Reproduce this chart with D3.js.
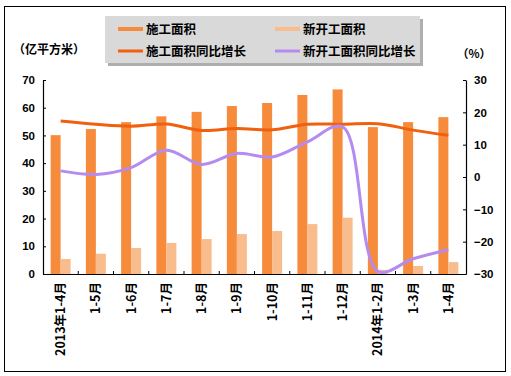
<!DOCTYPE html>
<html>
<head>
<meta charset="utf-8">
<script src="https://cdn.jsdelivr.net/npm/d3@7/dist/d3.min.js"></script>
<style>
  body { margin: 0; background: #fff; }
  svg { display: block; }
</style>
</head>
<body>
<svg id="chart" width="511" height="376"></svg>
<script>
let categories = ["2013年1-4月", "1-5月", "1-6月", "1-7月", "1-8月", "1-9月", "1-10月", "1-11月", "1-12月", "2014年1-2月", "1-3月", "1-4月"];
let construction = [50.1, 52.3, 54.8, 56.9, 58.5, 60.6, 61.7, 64.6, 66.6, 53.0, 54.8, 56.6];
let newStarts = [5.4, 7.3, 9.4, 11.2, 12.6, 14.4, 15.5, 18.0, 20.3, 1.5, 2.9, 4.3];
let constructionGrowth = [17.3, 16.3, 15.7, 16.4, 14.4, 15.0, 14.6, 16.3, 16.3, 16.5, 14.5, 12.9];
let newStartsGrowth = [1.9, 0.8, 2.9, 8.3, 3.9, 7.3, 6.2, 10.9, 15.5, -29.2, -25.3, -22.5];
let leftTicks = [0, 10, 20, 30, 40, 50, 60, 70];
let rightTicks = [-30, -20, -10, 0, 10, 20, 30];

let svg = d3.select("#chart");
let margin = { left: 43, right: 466, top: 80, bottom: 274 };
let tickFont = "'Liberation Sans', Arial, sans-serif";
let cjkFont = "'Noto Sans CJK SC', sans-serif";

let colors = {
  bar: "#F68B3C",
  light: "#F9BC8C",
  line: "#F0600F",
  purple: "#B58BF0"
};

// outer frame
svg.append("rect")
  .attr("x", 4.5).attr("y", 6.5)
  .attr("width", 501).attr("height", 365)
  .attr("fill", "#fff")
  .attr("stroke", "#000")
  .attr("stroke-width", 1);

let x = d3.scaleBand()
  .domain(categories)
  .range([margin.left, margin.right]);

let yLeft = d3.scaleLinear().domain([0, 70]).range([margin.bottom, margin.top]);
let yRight = d3.scaleLinear().domain([-30, 30]).range([margin.bottom, margin.top]);

let barW = 10;
let pairOffset = (x.bandwidth() - barW * 2) / 2;

// bars
svg.append("g").selectAll("rect")
  .data(construction)
  .enter()
  .append("rect")
  .attr("x", (d, i) => x(categories[i]) + pairOffset)
  .attr("y", (d) => yLeft(d))
  .attr("width", barW)
  .attr("height", (d) => yLeft(0) - yLeft(d))
  .attr("fill", colors.bar);

svg.append("g").selectAll("rect")
  .data(newStarts)
  .enter()
  .append("rect")
  .attr("x", (d, i) => x(categories[i]) + pairOffset + barW)
  .attr("y", (d) => yLeft(d))
  .attr("width", barW)
  .attr("height", (d) => yLeft(0) - yLeft(d))
  .attr("fill", colors.light);

// growth lines
let line = d3.line()
  .x((d, i) => x(categories[i]) + x.bandwidth() / 2)
  .y((d) => yRight(d))
  .curve(d3.curveCatmullRom.alpha(0.5));

svg.append("path")
  .attr("d", line(constructionGrowth))
  .attr("fill", "none")
  .attr("stroke", colors.line)
  .attr("stroke-width", 3);

svg.append("path")
  .attr("d", line(newStartsGrowth))
  .attr("fill", "none")
  .attr("stroke", colors.purple)
  .attr("stroke-width", 3);

// axes
let leftAxis = svg.append("g")
  .attr("transform", `translate(${margin.left},0)`)
  .call(d3.axisLeft(yLeft).tickValues(leftTicks).tickSizeInner(-3).tickSizeOuter(0).tickPadding(8));

let rightAxis = svg.append("g")
  .attr("transform", `translate(${margin.right},0)`)
  .call(d3.axisRight(yRight).tickValues(rightTicks).tickSizeInner(-3).tickSizeOuter(0).tickPadding(8).tickFormat((d) => d < 0 ? "\u2212" + Math.abs(d) : d));

let bottomAxis = svg.append("g")
  .attr("transform", `translate(0,${margin.bottom})`)
  .call(d3.axisBottom(x).tickValues([]).tickSizeOuter(0));

// inner ticks between categories
bottomAxis.selectAll("line.sep")
  .data(categories.slice(1))
  .enter()
  .append("line")
  .attr("x1", (d) => x(d))
  .attr("x2", (d) => x(d))
  .attr("y1", 0)
  .attr("y2", -3)
  .attr("stroke", "#000");

[leftAxis, rightAxis, bottomAxis].forEach((g) => {
  g.select(".domain").attr("stroke", "#000").attr("stroke-width", 1.2);
  g.selectAll(".tick line").attr("stroke", "#000");
  g.selectAll("text")
    .attr("font-family", tickFont)
    .attr("font-size", 11.5)
    .attr("font-weight", "bold")
    .attr("fill", "#000");
});

// category labels (vertical)
svg.append("g").selectAll("text")
  .data(categories)
  .enter()
  .append("text")
  .text((d) => d)
  .attr("transform", (d) => `translate(${x(d) + x.bandwidth() / 2 + 4.5},282) rotate(-90)`)
  .attr("text-anchor", "end")
  .attr("font-family", cjkFont)
  .attr("font-size", 12.5)
  .attr("font-weight", "bold")
  .attr("fill", "#000");

// unit labels
svg.append("text")
  .text("（亿平方米）")
  .attr("x", 13).attr("y", 54)
  .attr("font-family", cjkFont)
  .attr("font-size", 12)
  .attr("font-weight", "bold");

svg.append("text")
  .text("（%）")
  .attr("x", 457).attr("y", 58)
  .attr("font-family", cjkFont)
  .attr("font-size", 11.5)
  .attr("font-weight", "bold");

// legend
let legendItems = [
  { name: "施工面积", color: colors.bar, col: 0, row: 0 },
  { name: "新开工面积", color: colors.light, col: 1, row: 0 },
  { name: "施工面积同比增长", color: colors.line, col: 0, row: 1 },
  { name: "新开工面积同比增长", color: colors.purple, col: 1, row: 1 }
];

let legend = svg.append("g");
legend.append("rect")
  .attr("x", 108).attr("y", 19)
  .attr("width", 315).attr("height", 47)
  .attr("fill", "#9a9a9a")
  .attr("opacity", 0.8);
legend.append("rect")
  .attr("x", 105).attr("y", 16)
  .attr("width", 315).attr("height", 47)
  .attr("fill", "#D9D9D9");

let item = legend.selectAll("g.item")
  .data(legendItems)
  .enter()
  .append("g")
  .attr("transform", (d) => `translate(${118 + d.col * 157},${29 + d.row * 22})`);

item.append("line")
  .attr("x1", 0).attr("x2", 25)
  .attr("stroke", (d) => d.color)
  .attr("stroke-width", (d) => d.row === 0 ? 4 : 3);

item.append("text")
  .text((d) => d.name)
  .attr("x", 28).attr("y", 5)
  .attr("font-family", cjkFont)
  .attr("font-size", 12.5)
  .attr("font-weight", "bold")
  .attr("fill", "#000");
</script>
</body>
</html>
